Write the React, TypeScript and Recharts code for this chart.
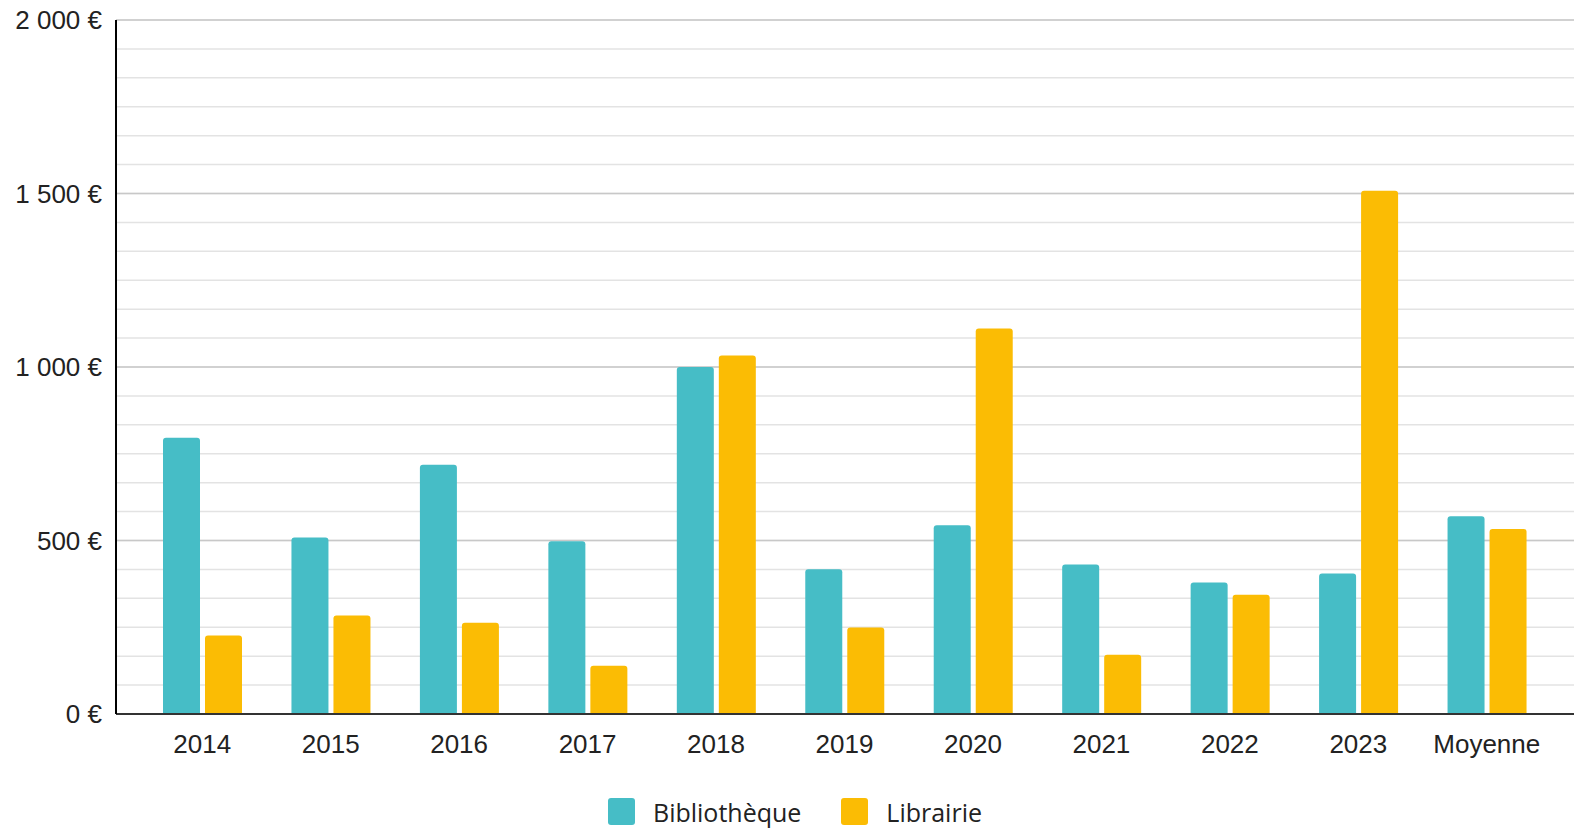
import React from 'react';
import { BarChart, Bar, XAxis, YAxis, CartesianGrid, Legend } from 'recharts';

const CATEGORIES = ['2014', '2015', '2016', '2017', '2018', '2019', '2020', '2021', '2022', '2023', 'Moyenne'];
const BIBLIOTHEQUE = [796, 509, 718, 498, 1000, 417, 544, 431, 379, 405, 570];
const LIBRAIRIE = [226, 284, 263, 139, 1033, 249, 1111, 171, 344, 1508, 533];

const Y_TICKS = [0, 500, 1000, 1500, 2000];
const Y_TICK_LABELS = ['0 €', '500 €', '1 000 €', '1 500 €', '2 000 €'];
// six minor lines per 500 € step
const MINOR_LINES = Array.from({ length: 25 }, (_, i) => (i * 2000) / 24);

const SERIES = [
  { key: 'bibliotheque', name: 'Bibliothèque', color: '#46BDC6' },
  { key: 'librairie', name: 'Librairie', color: '#FBBC04' },
];

const data = CATEGORIES.map((name, i) => ({
  name,
  bibliotheque: BIBLIOTHEQUE[i],
  librairie: LIBRAIRIE[i],
}));

const tickFont = { fontFamily: '"Liberation Sans", Arial, sans-serif', fontSize: 26, fill: '#222' };

const LegendBox = () => (
  <div
    style={{
      width: 1574,
      height: 57,
      display: 'flex',
      justifyContent: 'center',
      alignItems: 'flex-start',
      paddingTop: 27,
      paddingLeft: 16,
      boxSizing: 'border-box',
      fontFamily: '"Open Sans", sans-serif',
      fontSize: 25,
      color: '#222',
    }}
  >
    {SERIES.map((s, i) => (
      <div key={s.key} style={{ display: 'flex', alignItems: 'center', marginLeft: i ? 40 : 0 }}>
        <div style={{ width: 27, height: 27, borderRadius: 3, background: s.color, marginRight: 18 }} />
        <span style={{ lineHeight: '27px', position: 'relative', top: 1 }}>{s.name}</span>
      </div>
    ))}
  </div>
);

export default function App() {
  return (
    <div style={{ width: 1574, height: 828, background: '#fff' }}>
      <style>{`body{margin:0}`}</style>
      <BarChart
        width={1574}
        height={828}
        data={data}
        margin={{ top: 20, right: 0, bottom: 0, left: 0 }}
        barSize={37}
        barGap={5}
      >
        <CartesianGrid vertical={false} horizontalValues={MINOR_LINES} stroke="#e3e3e3" strokeWidth={1.5} />
        <CartesianGrid vertical={false} horizontalValues={Y_TICKS} stroke="#c8c8c8" strokeWidth={1.5} />
        <XAxis
          dataKey="name"
          height={57}
          padding={{ left: 22, right: 23 }}
          tickLine={false}
          tickMargin={15}
          axisLine={{ stroke: '#333', strokeWidth: 2 }}
          tick={tickFont}
          interval={0}
        />
        <YAxis
          width={116}
          domain={[0, 2000]}
          ticks={Y_TICKS}
          tickFormatter={(v: number) => Y_TICK_LABELS[Y_TICKS.indexOf(v)]}
          tickLine={false}
          tickMargin={8}
          axisLine={{ stroke: '#000', strokeWidth: 2 }}
          tick={tickFont}
          interval={0}
        />
        <Legend verticalAlign="bottom" content={<LegendBox />} wrapperStyle={{ left: 0, width: 1574 }} />
        {SERIES.map((s) => (
          <Bar
            key={s.key}
            dataKey={s.key}
            name={s.name}
            fill={s.color}
            radius={[3, 3, 0, 0]}
            isAnimationActive={false}
          />
        ))}
      </BarChart>
    </div>
  );
}
